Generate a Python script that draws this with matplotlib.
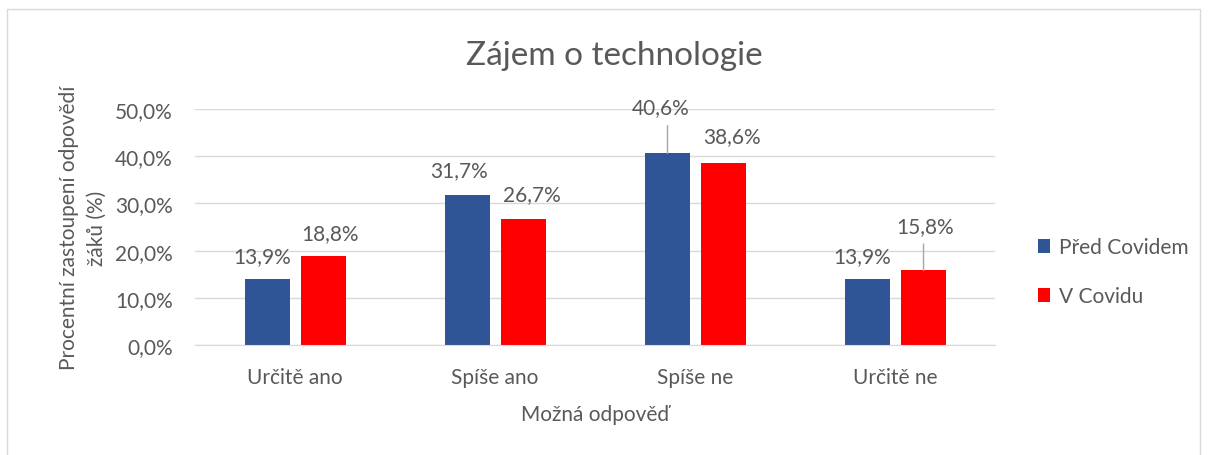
import matplotlib.pyplot as plt
import numpy as np
from matplotlib.patches import Rectangle
from matplotlib.ticker import FuncFormatter

categories = ["Určitě ano", "Spíše ano", "Spíše ne", "Určitě ne"]
pred_covidem = [13.9, 31.7, 40.6, 13.9]
v_covidu = [18.8, 26.7, 38.6, 15.8]
series_names = ["Před Covidem", "V Covidu"]

plt.rcParams['font.family'] = ['Lato', 'DejaVu Sans']
grey = '#595959'
fs = 15

fig = plt.figure(figsize=(12.08, 4.56), dpi=100)
fig.patches.append(Rectangle((7 / 1208, -20 / 456), 1193 / 1208, 466 / 456,
                             transform=fig.transFigure, fill=False,
                             edgecolor='#d9d9d9', linewidth=1))
ax = fig.add_axes([0.1614, 0.2412, 0.6623, 0.5176])

x = np.arange(len(categories))
w = 0.225
b1 = ax.bar(x - 0.1375, pred_covidem, w, color='#2f5597', label=series_names[0])
b2 = ax.bar(x + 0.1425, v_covidu, w, color='#ff0000', label=series_names[1])

ax.set_ylim(0, 50)
ax.set_xlim(-0.5, 3.5)
ax.set_yticks(np.arange(0, 51, 10))
ax.yaxis.set_major_formatter(FuncFormatter(lambda v, p: f"{v:.1f}%".replace('.', ',')))
ax.set_xticks(x)
ax.set_xticklabels(categories)
ax.grid(axis='y', color='#d9d9d9', linewidth=1)
ax.set_axisbelow(True)
for s in ['top', 'right', 'left']:
    ax.spines[s].set_visible(False)
ax.spines['bottom'].set_color('#d9d9d9')
ax.tick_params(length=0, labelsize=fs, colors=grey)
ax.tick_params(axis='y', pad=16)
ax.tick_params(axis='x', pad=16)

# label offsets in points (dx, dy); leader line for the lifted labels
offs1 = [(-4, 17), (-6, 18), (-5, 33), (-4, 17)]
offs2 = [(5, 17), (6, 18), (6, 19), (1, 32)]
for bars, vals, offs in [(b1, pred_covidem, offs1), (b2, v_covidu, offs2)]:
    for r, v, (dx, dy) in zip(bars, vals, offs):
        cx = r.get_x() + r.get_width() / 2
        ax.annotate(f"{v:.1f}%".replace('.', ','), (cx, v), xytext=(dx, dy),
                    textcoords='offset points', ha='center', va='center',
                    fontsize=fs, color=grey)
        if dy > 25:
            ax.annotate("", (cx, v), xytext=(0, dy - 13), textcoords='offset points',
                        arrowprops=dict(arrowstyle='-', color='#a6a6a6', lw=1,
                                        shrinkA=0, shrinkB=0))

fig.text(614 / 1208, 1 - 56 / 456, "Zájem o technologie", fontsize=24,
         color=grey, ha='center', va='center')
ax.set_xlabel("Možná odpověď", fontsize=fs, color=grey, labelpad=12)
ax.set_ylabel("Procentní zastoupení odpovědí\nžáků (%)", fontsize=fs, color=grey,
              labelpad=6, linespacing=1.45)

ax.legend(loc='center left', bbox_to_anchor=(1.03, 0.31), frameon=False,
          fontsize=fs, labelcolor=grey, handlelength=0.6, handleheight=0.6,
          labelspacing=1.4, handletextpad=0.4)

fig.savefig("out.png", dpi=100)
